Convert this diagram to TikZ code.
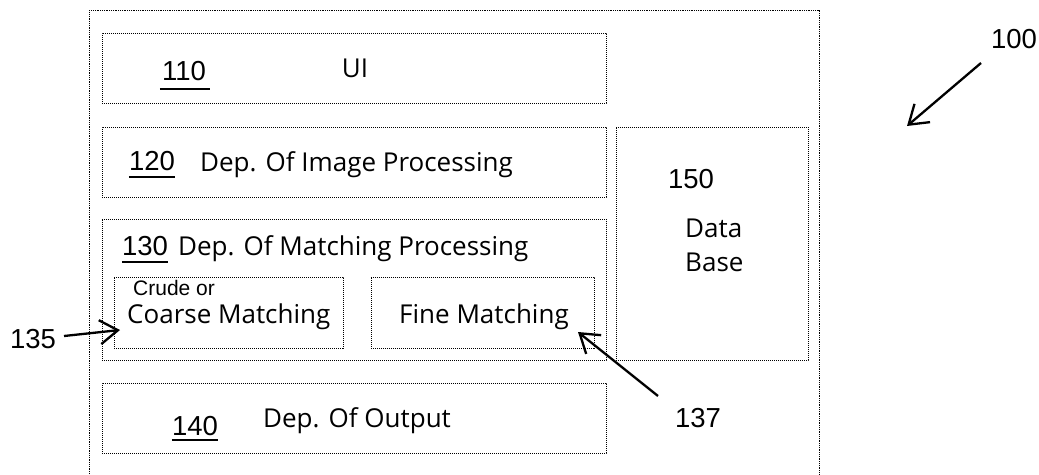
\documentclass[tikz,border=0pt]{standalone}
\usepackage{fontspec}
\usetikzlibrary{arrows.meta}
\newfontfamily\numfont{Liberation Sans}
\newfontfamily\txtfont{Open Sans}
\tikzset{
  box/.style={draw=black, line width=1pt, dash pattern=on 1.1pt off 0.9pt, inner sep=0pt, outer sep=0pt},
  num/.style={font=\numfont\fontsize{27.5}{30}\selectfont, inner sep=0pt, anchor=base},
  txt/.style={font=\txtfont\fontsize{26}{28}\selectfont, inner sep=0pt, anchor=base west},
  small/.style={font=\numfont\fontsize{21}{23}\selectfont, inner sep=0pt, anchor=base west},
  uline/.style={line width=2.4pt},
  callout/.style={line width=2.3pt, -{Straight Barb[length=18pt,width=24pt]}}
}
\begin{document}
\begin{tikzpicture}[x=1pt,y=-1pt]
\useasboundingbox (0,0) rectangle (1039,474);
% outer device box
\draw[box, dash pattern=on 1pt off 0.8pt] (89,474) -- (89,10) -- (819,10) -- (819,474);
% inner boxes
\node[box, minimum width=504pt, minimum height=70pt] (ui) at (354,68) {};
\node[box, minimum width=504pt, minimum height=70pt] (ip) at (354,162) {};
\node[box, minimum width=504pt, minimum height=141pt] (mp) at (354,289.5) {};
\node[box, minimum width=229pt, minimum height=71pt] (cm) at (228.5,312.5) {};
\node[box, minimum width=223pt, minimum height=71pt] (fm) at (482.5,312.5) {};
\node[box, minimum width=504pt, minimum height=70pt] (op) at (354,418) {};
\node[box, minimum width=192pt, minimum height=233pt] (db) at (712,243.5) {};
% texts
\node[num] (n110) at (184,80) {110};
\node[txt, anchor=base] (tui) at (355,77) {UI};
\node[num] (n120) at (152,170) {120};
\node[txt] (tip) at (200,171) {Dep. Of Image Processing};
\node[num] (n130) at (145,255) {130};
\node[txt] (tmp) at (178,255) {Dep. Of Matching Processing};
\node[small] (tcr) at (133,295) {Crude or};
\node[txt] (tco) at (127,323) {Coarse Matching};
\node[txt, anchor=base] (tfm) at (484,323) {Fine Matching};
\node[num] (n140) at (195,435) {140};
\node[txt] (top) at (263,427) {Dep. Of Output};
\node[num] (n150) at (691,188) {150};
\node[txt] (tda) at (685,237) {Data};
\node[txt] (tba) at (685,271) {Base};
% underlines
\draw[uline] ([xshift=-2pt,yshift=-9pt]n110.base west) -- ([xshift=4pt,yshift=-9pt]n110.base east);
\draw[uline] ([yshift=-7pt]n120.base west) -- ([yshift=-7pt]n120.base east);
\draw[uline] ([yshift=-7pt]n130.base west) -- ([yshift=-7pt]n130.base east);
\draw[uline] ([yshift=-5pt]n140.base west) -- ([yshift=-5pt]n140.base east);
% reference labels and callouts
\node[num] (n100) at (1014,48) {100};
\node[num] (n135) at (33,348) {135};
\node[num] (n137) at (698,427) {137};
\coordinate (a100s) at (981,63);
\coordinate (a100e) at (907,126);
\coordinate (a135s) at (64,336);
\coordinate (a135e) at (120,330);
\coordinate (a137s) at (658,396);
\coordinate (a137e) at (578,332);
\draw[callout] (a100s) -- (a100e);
\draw[callout] (a135s) -- (a135e);
\draw[callout] (a137s) -- (a137e);
\end{tikzpicture}
\end{document}
